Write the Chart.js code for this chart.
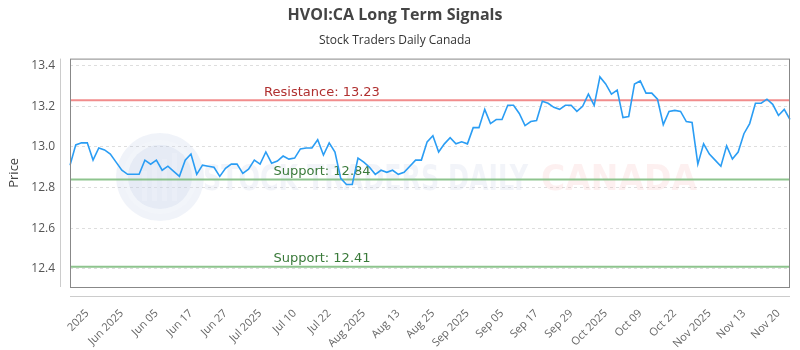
<!DOCTYPE html>
<html>
<head>
<meta charset="utf-8">
<script src="https://cdn.jsdelivr.net/npm/chart.js@4/dist/chart.umd.min.js"></script>
<style>
  html, body { margin: 0; padding: 0; background: #fff; }
  #wrap { width: 800px; height: 350px; }
</style>
</head>
<body>
<div id="wrap"><canvas id="signalChart"></canvas></div>
<script>
// closing prices, one per trading day
var prices = [
  12.91, 13.01, 13.02, 13.02, 12.935, 12.995, 12.985, 12.965, 12.925, 12.885,
  12.865, 12.865, 12.865, 12.935, 12.915, 12.935, 12.885, 12.905, 12.88, 12.855,
  12.935, 12.965, 12.865, 12.91, 12.905, 12.90, 12.855, 12.895, 12.915, 12.915,
  12.87, 12.89, 12.935, 12.915, 12.975, 12.92, 12.93, 12.955, 12.94, 12.945,
  12.99, 12.995, 12.995, 13.035, 12.96, 13.02, 12.975, 12.845, 12.815, 12.815,
  12.945, 12.925, 12.90, 12.865, 12.885, 12.875, 12.885, 12.865, 12.875, 12.905,
  12.935, 12.935, 13.025, 13.055, 12.975, 13.015, 13.045, 13.015, 13.025, 13.015,
  13.095, 13.095, 13.185, 13.115, 13.135, 13.135, 13.205, 13.205, 13.165, 13.105,
  13.125, 13.13, 13.225, 13.215, 13.195, 13.185, 13.205, 13.205, 13.175, 13.20,
  13.26, 13.205, 13.345, 13.31, 13.26, 13.28, 13.145, 13.15, 13.31, 13.325,
  13.265, 13.265, 13.235, 13.11, 13.175, 13.18, 13.175, 13.125, 13.12, 12.915,
  13.015, 12.965, 12.935, 12.905, 13.005, 12.94, 12.975, 13.065, 13.115, 13.215,
  13.215, 13.235, 13.21, 13.155, 13.185, 13.135
];

// date labels shown under the axis, every 6th trading day
var tickLabels = [
  "2025", "Jun 2025", "Jun 05", "Jun 17", "Jun 27", "Jul 2025", "Jul 10",
  "Jul 22", "Aug 2025", "Aug 13", "Aug 25", "Sep 2025", "Sep 05", "Sep 17",
  "Sep 29", "Oct 2025", "Oct 09", "Oct 22", "Nov 2025", "Nov 13", "Nov 20"
];

var levelNames  = ["Resistance", "Support", "Support"];
var levelValues = [13.23, 12.84, 12.41];
var levelColors = ["rgba(240,128,128,0.9)", "rgba(130,190,130,0.9)", "rgba(130,190,130,0.9)"];
var levelText   = ["#b03030", "#3a7a3a", "#3a7a3a"];

var yMin = 12.31, yMax = 13.435;
var firstTick = 3, tickEvery = 6;

var categories = prices.map(function(p, i){ return i; });

var decor = {
  id: 'decor',
  beforeDatasetsDraw: function(chart){
    var ctx = chart.ctx, a = chart.chartArea, y = chart.scales.y;
    ctx.save();
    // watermark logo
    ctx.globalAlpha = 0.16;
    ctx.fillStyle = "#9fb6d8";
    ctx.beginPath();
    ctx.arc(160, 177, 44, 0, Math.PI*2);
    ctx.fill();
    ctx.fillStyle = "#ffffff";
    ctx.beginPath();
    ctx.arc(160, 177, 37, 0, Math.PI*2);
    ctx.fill();
    ctx.fillStyle = "#9fb6d8";
    ctx.beginPath();
    ctx.arc(160, 177, 32, 0, Math.PI*2);
    ctx.fill();
    ctx.fillStyle = "#ffffff";
    [-18, -8, 2, 12].forEach(function(dx, k){
      ctx.fillRect(160 + dx, 171 - k*6, 5, 30 + k*6);
    });
    ctx.globalAlpha = 0.15;
    ctx.font = "bold 36px 'DejaVu Sans Condensed', 'DejaVu Sans'";
    ctx.textBaseline = "middle";
    ctx.textAlign = "left";
    var t1 = "STOCK TRADERS DAILY";
    var w1 = ctx.measureText(t1).width;
    ctx.save();
    ctx.translate(203, 181);
    ctx.scale(325 / w1, 1);
    ctx.fillStyle = "#a8b8d4";
    ctx.fillText(t1, 0, 0);
    ctx.restore();
    var t2 = "CANADA";
    var w2 = ctx.measureText(t2).width;
    ctx.save();
    ctx.translate(541, 181);
    ctx.scale(156 / w2, 1);
    ctx.fillStyle = "#f49c9c";
    ctx.fillText(t2, 0, 0);
    ctx.restore();
    ctx.restore();

    // support / resistance levels
    ctx.save();
    var cx = a.left + (a.right - a.left) * 0.35;
    levelValues.forEach(function(v, i){
      var py = y.getPixelForValue(v);
      ctx.strokeStyle = levelColors[i];
      ctx.lineWidth = 2;
      ctx.beginPath();
      ctx.moveTo(a.left, py);
      ctx.lineTo(a.right, py);
      ctx.stroke();
      ctx.fillStyle = levelText[i];
      ctx.font = "13px 'DejaVu Sans'";
      ctx.textAlign = "center";
      ctx.textBaseline = "middle";
      ctx.fillText(levelNames[i] + ": " + v.toFixed(2), cx, py - 8);
    });
    ctx.restore();
  },
  afterDraw: function(chart){
    var ctx = chart.ctx, a = chart.chartArea;
    ctx.save();
    ctx.strokeStyle = "#888";
    ctx.lineWidth = 1;
    ctx.strokeRect(a.left + 0.5, a.top + 0.5, a.right - a.left - 1, a.bottom - a.top);
    ctx.strokeStyle = "#ccc";
    ctx.beginPath();
    ctx.moveTo(a.left - 9.5, a.top);
    ctx.lineTo(a.left - 9.5, a.bottom);
    ctx.moveTo(a.left, a.bottom + 9.5);
    ctx.lineTo(a.right, a.bottom + 9.5);
    ctx.stroke();
    ctx.restore();
  }
};

var popCanvas = document.getElementById("signalChart");
var lineChart = new Chart(popCanvas, {
  type: 'line',
  data: {
    labels: categories,
    datasets: [{
      label: 'Price',
      data: prices,
      borderColor: '#2a9df4',
      borderWidth: 1.6,
      pointRadius: 0,
      tension: 0,
      fill: false
    }]
  },
  options: {
    responsive: true,
    maintainAspectRatio: false,
    animation: false,
    layout: { padding: { left: 0, right: 10, top: 0, bottom: 0 } },
    plugins: {
      legend: { display: false },
      tooltip: { enabled: false },
      title: {
        display: true,
        text: 'HVOI:CA Long Term Signals',
        color: '#444',
        font: { family: "'Open Sans'", size: 16, weight: 'bold' },
        padding: { top: 6, bottom: 8 }
      },
      subtitle: {
        display: true,
        text: 'Stock Traders Daily Canada',
        color: '#333',
        font: { family: "'Open Sans'", size: 12 },
        padding: { top: 0, bottom: 11 }
      }
    },
    scales: {
      x: {
        type: 'category',
        grid: { display: false },
        border: { display: false },
        afterFit: function(s){ s.height = 63; },
        ticks: {
          autoSkip: false,
          maxRotation: 45,
          minRotation: 45,
          padding: 12,
          color: '#666',
          font: { family: "'Open Sans'", size: 11 },
          callback: function(v, i){
            if (i < firstTick || (i - firstTick) % tickEvery !== 0) return null;
            return tickLabels[(i - firstTick) / tickEvery];
          }
        }
      },
      y: {
        min: yMin,
        max: yMax,
        afterFit: function(s){ s.width = 70; },
        grid: { color: '#dedede', drawTicks: false, lineWidth: 1 },
        border: { display: false, dash: [3, 3] },
        title: {
          display: true,
          text: 'Price',
          color: '#444',
          font: { family: "'Open Sans'", size: 13 },
          padding: { top: 6, bottom: 0 }
        },
        ticks: {
          stepSize: 0.2,
          includeBounds: false,
          padding: 15,
          color: '#555',
          font: { family: "'Open Sans'", size: 12 },
          callback: function(v){ return v.toFixed(1); }
        }
      }
    }
  },
  plugins: [decor]
});
</script>
</body>
</html>
